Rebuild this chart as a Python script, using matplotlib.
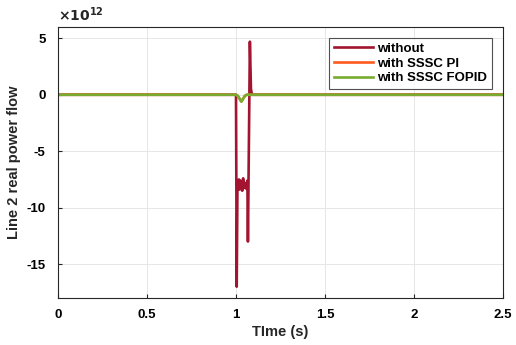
import numpy as np
import matplotlib
matplotlib.use("Agg")
import matplotlib.pyplot as plt

plt.rcParams['font.family'] = ['Liberation Sans', 'DejaVu Sans']
plt.rcParams['font.weight'] = 'bold'
plt.rcParams['font.size'] = 9

# time points (s) and power flow values (x1e12)
t_without = [0.0, 1.0, 1.002, 1.004, 1.008, 1.012, 1.016, 1.02, 1.025, 1.03, 1.035, 1.04, 1.045,
             1.05, 1.055, 1.06, 1.064, 1.067, 1.072, 1.078, 1.084, 1.09, 2.5]
p_without = [0.0, 0.0, -8.0, -17.0, -8.5, -8.0, -7.5, -8.4, -7.6, -8.0, -8.5, -7.4, -8.2,
             -7.8, -8.3, -8.0, -7.6, -13.0, -5.0, 4.7, 0.5, 0.0, 0.0]

t_pi = [0.0, 1.0, 1.01, 1.02, 1.03, 1.04, 1.05, 1.06, 2.5]
p_pi = [0.0, 0.0, -0.1, -0.35, -0.6, -0.35, -0.1, 0.0, 0.0]

t_fopid = [0.0, 1.0, 1.01, 1.02, 1.03, 1.04, 1.05, 1.06, 2.5]
p_fopid = [0.0, 0.0, -0.1, -0.35, -0.6, -0.35, -0.1, 0.0, 0.0]

scale = 1e12

fig = plt.figure(figsize=(5.16, 3.45), dpi=100)
ax = fig.add_axes([58/516, 1 - 298/345, 445/516, 271/345])

ax.plot(t_without, np.array(p_without) * scale, color='#A2142F', lw=1.9, label='without')
ax.plot(t_pi, np.array(p_pi) * scale, color='#FF5A1F', lw=1.9, label='with SSSC PI')
ax.plot(t_fopid, np.array(p_fopid) * scale, color='#77AC30', lw=1.9, label='with SSSC FOPID')

ax.set_xlim(0, 2.5)
ax.set_ylim(-18e12, 6e12)
ax.set_xticks([0, 0.5, 1, 1.5, 2, 2.5])
ax.set_xticklabels(['0', '0.5', '1', '1.5', '2', '2.5'])
ax.set_yticks(np.array([-15, -10, -5, 0, 5]) * scale)
ax.set_yticklabels(['-15', '-10', '-5', '0', '5'])
ax.grid(True, color='#e6e6e6', lw=0.7)
ax.set_axisbelow(True)
ax.tick_params(direction='in', length=3, color='#262626', labelsize=9.5)
ax.tick_params(axis='x', pad=8)
ax.tick_params(axis='y', pad=9)
for s in ax.spines.values():
    s.set_color('#262626')
    s.set_linewidth(0.8)

ax.set_xlabel('TIme (s)', fontsize=10.5, fontweight='bold', color='#262626', labelpad=3)
ax.set_ylabel('Line 2 real power flow', fontsize=10.5, fontweight='bold', color='#262626', labelpad=4)
ax.text(0.0, 1.01, r'$\times\mathbf{10^{12}}$', transform=ax.transAxes, ha='left', va='bottom',
        fontsize=10, color='#262626')

leg = ax.legend(loc='upper right', bbox_to_anchor=(0.975, 0.96), borderaxespad=0, fontsize=9.5,
                frameon=True, fancybox=False, edgecolor='#262626', handlelength=3.0,
                borderpad=0.35, labelspacing=0.2, handletextpad=0.3)
leg.get_frame().set_linewidth(0.8)

fig.savefig('out.png', dpi=100)
